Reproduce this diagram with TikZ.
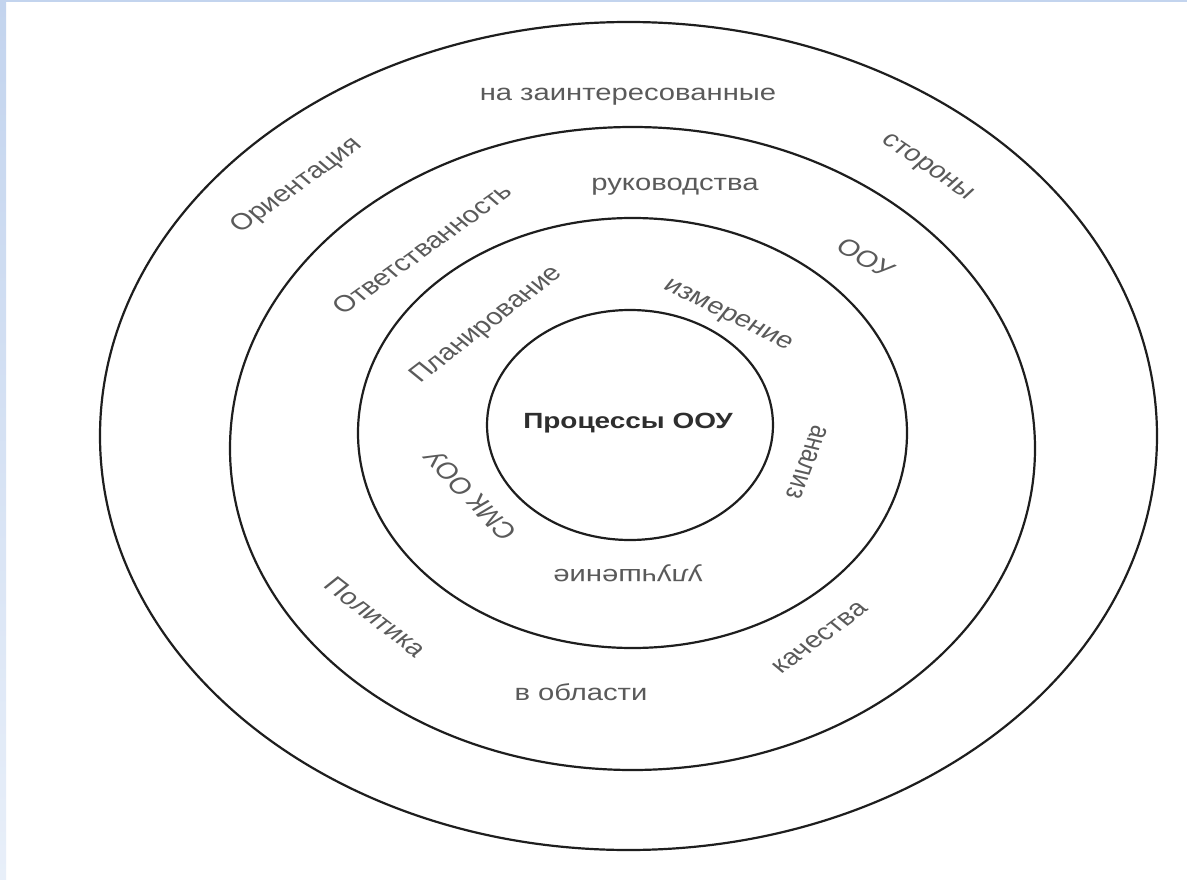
\documentclass[tikz,border=0pt]{standalone}
\usepackage{fontspec}
\setmainfont{Liberation Sans}
\definecolor{labelgray}{HTML}{5A5A5A}
\definecolor{titlegray}{HTML}{2E2E2E}
\definecolor{ringline}{HTML}{1E1E1E}
\definecolor{stripTop}{HTML}{C3D4EE}
\definecolor{stripBot}{HTML}{E8EFF9}
\tikzset{
  ring/.style={draw=ringline, line width=2.2pt},
  lbl/.style={font=\fontsize{23pt}{26pt}\selectfont, text=labelgray, inner sep=0pt, transform shape},
  ttl/.style={font=\fontsize{22pt}{25pt}\selectfont\bfseries, text=titlegray, inner sep=0pt, transform shape}
}
\begin{document}
\begin{tikzpicture}[x=1pt,y=-1pt]
\useasboundingbox (0,0) rectangle (1187,880);
\fill[white] (0,0) rectangle (1187,880);
% light blue frame strips
\shade[top color=stripTop, bottom color=stripBot] (0,0) rectangle (6,880);
\fill[stripTop] (0,0) rectangle (1187,2.5);
% rings
\draw[ring] (628.5,436) ellipse [x radius=528.5pt, y radius=414pt];
\draw[ring] (632.5,448.5) ellipse [x radius=402.5pt, y radius=321.5pt];
\draw[ring] (632.5,433) ellipse [x radius=274.5pt, y radius=215pt];
\draw[ring] (630,425) ellipse [x radius=143pt, y radius=115pt];
% labels (drawn unstretched, then stretched horizontally like the original)
\begin{scope}[shift={(630,0)}, xscale=1.27]
  \node[ttl] (core) at ({(628-630)/1.27},423) {Процессы ООУ};
  % outer ring
  \node[lbl] (orient) at ({(297-630)/1.27},186) [rotate=42] {Ориентация};
  \node[lbl] (zainter) at ({(628-630)/1.27},97) {на заинтересованные};
  \node[lbl] (storony) at ({(927-630)/1.27},168) [rotate=-40.7] {стороны};
  % second ring
  \node[lbl] (otvet) at ({(422-630)/1.27},249) [rotate=42.2] {Ответстванность};
  \node[lbl] (rukov) at ({(675-630)/1.27},187) {руководства};
  \node[lbl] (oou) at ({(866-630)/1.27},258) [rotate=-35.7] {ООУ};
  \node[lbl] (polit) at ({(376-630)/1.27},617) [rotate=-44.5] {Политика};
  \node[lbl] (oblast) at ({(581-630)/1.27},692) {в области};
  \node[lbl] (kach) at ({(820-630)/1.27},638) [rotate=43.3] {качества};
  % third ring
  \node[lbl] (plan) at ({(487-630)/1.27},325) [rotate=44] {Планирование};
  \node[lbl] (izmer) at ({(727-630)/1.27},316) [rotate=-32] {измерение};
  \node[lbl] (analiz) at ({(807-630)/1.27},462) [rotate=-106.9] {анализ};
  \node[lbl] (uluch) at ({(628-630)/1.27},573) [rotate=180] {улучшение};
  \node[lbl] (smk) at ({(470-630)/1.27},495) [rotate=126.9] {СМК ООУ};
\end{scope}
\end{tikzpicture}
\end{document}
